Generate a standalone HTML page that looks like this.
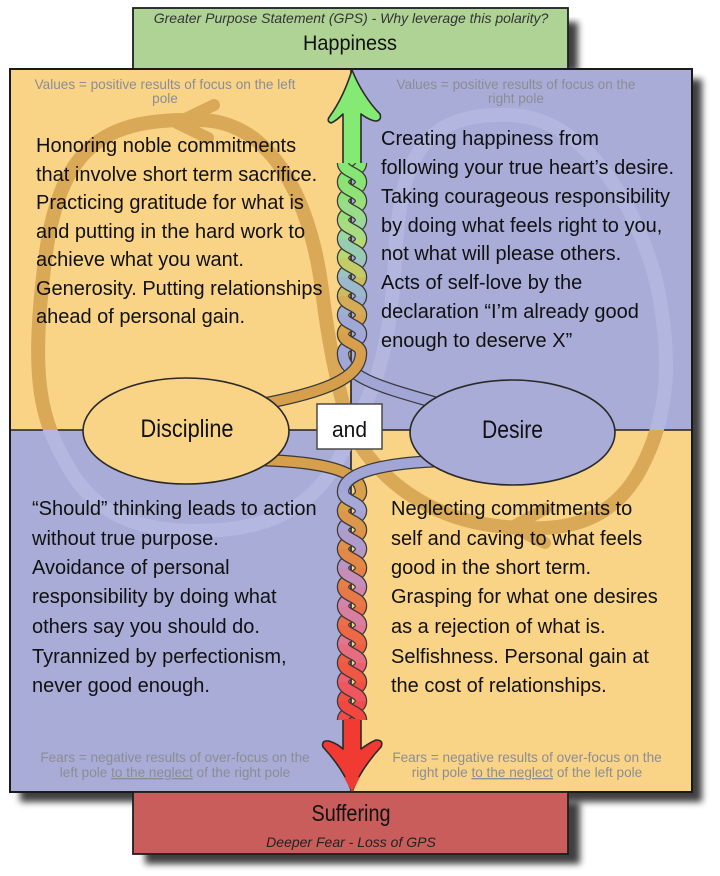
<!DOCTYPE html>
<html><head><meta charset="utf-8"><style>
html,body{margin:0;padding:0;background:#fff;}
svg{display:block;}
text{font-family:"Liberation Sans",Arial,sans-serif;}
.b{font-size:20px;fill:#111;}
.h{font-size:13.6px;fill:#8c8c94;}
.s1{fill:none;stroke:#3a3a3a;stroke-width:12.5;stroke-linecap:butt;}
</style></head><body>
<svg width="720" height="876" viewBox="0 0 720 876" xmlns="http://www.w3.org/2000/svg">
<defs>
<filter id="sh" x="-10%" y="-10%" width="130%" height="130%"><feGaussianBlur stdDeviation="3.5"/></filter>
<clipPath id="ct"><rect x="10" y="69" width="682" height="361"/></clipPath>
<clipPath id="cb"><rect x="10" y="430" width="682" height="362"/></clipPath>
</defs>

<!-- shadows -->
<rect x="143" y="22" width="435" height="50" fill="#000" opacity=".75" filter="url(#sh)"/>
<rect x="20" y="79" width="682" height="723" fill="#000" opacity=".75" filter="url(#sh)"/>
<rect x="145" y="802" width="435" height="62" fill="#000" opacity=".75" filter="url(#sh)"/>

<!-- green box -->
<rect x="133" y="8" width="435" height="61" fill="#afd395" stroke="#1e1e1e" stroke-width="1.8"/>
<text x="351" y="23" text-anchor="middle" font-size="14" font-style="italic" fill="#333">Greater Purpose Statement (GPS) - Why leverage this polarity?</text>
<text x="350" y="50" text-anchor="middle" font-size="21" fill="#111" textLength="94" lengthAdjust="spacingAndGlyphs">Happiness</text>

<!-- quadrants -->
<rect x="10" y="69" width="341" height="361" fill="#f9d487"/>
<rect x="351" y="69" width="341" height="361" fill="#a9acd7"/>
<rect x="10" y="430" width="341" height="362" fill="#a9acd7"/>
<rect x="351" y="430" width="341" height="362" fill="#f9d487"/>

<!-- midlines -->
<line x1="10" y1="430" x2="692" y2="430" stroke="#222" stroke-width="1.6"/>
<line x1="351" y1="69" x2="351" y2="792" stroke="#222" stroke-width="1.6"/>

<!-- loops -->
<g fill="none" stroke-width="14" stroke-linecap="round" stroke-linejoin="round">
<g clip-path="url(#ct)">
<path d="M351 432 C338 390 328 340 322 290 S290 122 200 120 S60 140 45 260 S40 420 70 470 S150 535 220 530 S330 490 351 432" stroke="#d9a958"/>
<path d="M351 428 C370 470 420 515 490 525 S610 525 640 470 S670 360 660 300 S600 118 510 115 S400 160 395 260 S370 400 351 428" stroke="#b3b6df"/>
<polyline points="214,105 177,123 208,138" stroke="#d9a958" stroke-width="12"/>
</g>
<g clip-path="url(#cb)">
<path d="M351 432 C338 390 328 340 322 290 S290 122 200 120 S60 140 45 260 S40 420 70 470 S150 535 220 530 S330 490 351 432" stroke="#b4b7df"/>
<path d="M351 428 C370 470 420 515 490 525 S610 525 640 470 S670 360 660 300 S600 118 510 115 S400 160 395 260 S370 400 351 428" stroke="#d9a958"/>
<polyline points="545,509 512,527 545,543" stroke="#d9a958" stroke-width="12"/>
</g>
</g>

<!-- main border -->
<rect x="10" y="69" width="682" height="723" fill="none" stroke="#1a1a1a" stroke-width="2"/>

<!-- green arrow -->
<path d="M352 70 C358 85 368 102 380 114 Q382 121 375 121 C370 120 365 117 361 114 L361 172 L343 172 L343 114 C340 117 336 121 331 123 Q326 121 330 116 C340 102 347 86 352 70 Z" fill="#84ea74" stroke="#2a2a2a" stroke-width="1.6" stroke-linejoin="round"/>

<!-- upper braid -->
<g fill="none" stroke-linecap="butt">
<path class="s1" d="M361 163 C361 172.5 343 172.5 343 182"/><path d="M361 163 C361 172.5 343 172.5 343 182" stroke="#86e673" stroke-width="10"/>
<path class="s1" d="M343 163 C343 172.5 361 172.5 361 182"/><path d="M343 163 C343 172.5 361 172.5 361 182" stroke="#86e673" stroke-width="10"/>
<path class="s1" d="M361 182 C361 191.5 343 191.5 343 201"/><path d="M361 182 C361 191.5 343 191.5 343 201" stroke="#90e07a" stroke-width="10"/>
<path class="s1" d="M343 182 C343 191.5 361 191.5 361 201"/><path d="M343 182 C343 191.5 361 191.5 361 201" stroke="#8ee276" stroke-width="10"/>
<path class="s1" d="M361 201 C361 210.5 343 210.5 343 220"/><path d="M361 201 C361 210.5 343 210.5 343 220" stroke="#9ede7a" stroke-width="10"/>
<path class="s1" d="M343 201 C343 210.5 361 210.5 361 220"/><path d="M343 201 C343 210.5 361 210.5 361 220" stroke="#98dc8c" stroke-width="10"/>
<path class="s1" d="M361 220 C361 229.5 343 229.5 343 239"/><path d="M361 220 C361 229.5 343 229.5 343 239" stroke="#9ad6a0" stroke-width="10"/>
<path class="s1" d="M343 220 C343 229.5 361 229.5 361 239"/><path d="M343 220 C343 229.5 361 229.5 361 239" stroke="#a8dc80" stroke-width="10"/>
<path class="s1" d="M361 239 C361 248.5 343 248.5 343 258"/><path d="M361 239 C361 248.5 343 248.5 343 258" stroke="#b8d870" stroke-width="10"/>
<path class="s1" d="M343 239 C343 248.5 361 248.5 361 258"/><path d="M343 239 C343 248.5 361 248.5 361 258" stroke="#98ccb0" stroke-width="10"/>
<path class="s1" d="M361 258 C361 267.5 343 267.5 343 277"/><path d="M361 258 C361 267.5 343 267.5 343 277" stroke="#9cc4c0" stroke-width="10"/>
<path class="s1" d="M343 258 C343 267.5 361 267.5 361 277"/><path d="M343 258 C343 267.5 361 267.5 361 277" stroke="#c4cc68" stroke-width="10"/>
<path class="s1" d="M361 277 C361 286.5 343 286.5 343 296"/><path d="M361 277 C361 286.5 343 286.5 343 296" stroke="#ccbc60" stroke-width="10"/>
<path class="s1" d="M343 277 C343 286.5 361 286.5 361 296"/><path d="M343 277 C343 286.5 361 286.5 361 296" stroke="#9cb8cc" stroke-width="10"/>
<path class="s1" d="M361 296 C361 305.5 343 305.5 343 315"/><path d="M361 296 C361 305.5 343 305.5 343 315" stroke="#9eaed4" stroke-width="10"/>
<path class="s1" d="M343 296 C343 305.5 361 305.5 361 315"/><path d="M343 296 C343 305.5 361 305.5 361 315" stroke="#d4ac56" stroke-width="10"/>
<path class="s1" d="M361 315 C361 324.5 343 324.5 343 334"/><path d="M361 315 C361 324.5 343 324.5 343 334" stroke="#d8a450" stroke-width="10"/>
<path class="s1" d="M343 315 C343 324.5 361 324.5 361 334"/><path d="M343 315 C343 324.5 361 324.5 361 334" stroke="#a0a8d6" stroke-width="10"/>
<path class="s1" d="M361 334 C361 343.5 343 343.5 343 353"/><path d="M361 334 C361 343.5 343 343.5 343 353" stroke="#a2a6d8" stroke-width="10"/>
<path class="s1" d="M343 334 C343 343.5 361 343.5 361 353"/><path d="M343 334 C343 343.5 361 343.5 361 353" stroke="#d8a04c" stroke-width="10"/>

<!-- upper connectors -->
<path class="s1" d="M343 353 C343 378 385 388 440 404"/><path d="M343 353 C343 378 385 388 440 404" stroke="#a2a6d6" stroke-width="10"/>
<path class="s1" d="M361 353 C361 378 325 392 262 404"/><path d="M361 353 C361 378 325 392 262 404" stroke="#d69f4c" stroke-width="10"/>

<!-- lower connectors -->
<path class="s1" d="M262 460 C320 462 361 470 361 492"/><path d="M262 460 C320 462 361 470 361 492" stroke="#d69f4c" stroke-width="10"/>
<path class="s1" d="M440 461 C385 463 343 472 343 492"/><path d="M440 461 C385 463 343 472 343 492" stroke="#a2a6d6" stroke-width="10"/>

<!-- red shaft / arrowhead -->
<path d="M352 792 C346 776 336 761 323 747 Q321 740 329 741 C335 743 340 746 343 749 L343 716 L361 716 L361 749 C365 746 371 742 376 740 Q384 740 381 747 C368 761 358 776 352 792 Z" fill="#f03a32" stroke="#2a2a2a" stroke-width="1.6" stroke-linejoin="round"/>

<!-- lower braid -->
<path class="s1" d="M361 492 C361 501.5 343 501.5 343 511"/><path d="M361 492 C361 501.5 343 501.5 343 511" stroke="#d8a04c" stroke-width="10"/>
<path class="s1" d="M343 492 C343 501.5 361 501.5 361 511"/><path d="M343 492 C343 501.5 361 501.5 361 511" stroke="#a6a8d8" stroke-width="10"/>
<path class="s1" d="M361 511 C361 520.5 343 520.5 343 530"/><path d="M361 511 C361 520.5 343 520.5 343 530" stroke="#a8a2d2" stroke-width="10"/>
<path class="s1" d="M343 511 C343 520.5 361 520.5 361 530"/><path d="M343 511 C343 520.5 361 520.5 361 530" stroke="#dc984a" stroke-width="10"/>
<path class="s1" d="M361 530 C361 539.5 343 539.5 343 549"/><path d="M361 530 C361 539.5 343 539.5 343 549" stroke="#e09048" stroke-width="10"/>
<path class="s1" d="M343 530 C343 539.5 361 539.5 361 549"/><path d="M343 530 C343 539.5 361 539.5 361 549" stroke="#b09ccc" stroke-width="10"/>
<path class="s1" d="M361 549 C361 558.5 343 558.5 343 568"/><path d="M361 549 C361 558.5 343 558.5 343 568" stroke="#b896c4" stroke-width="10"/>
<path class="s1" d="M343 549 C343 558.5 361 558.5 361 568"/><path d="M343 549 C343 558.5 361 558.5 361 568" stroke="#e48848" stroke-width="10"/>
<path class="s1" d="M361 568 C361 577.5 343 577.5 343 587"/><path d="M361 568 C361 577.5 343 577.5 343 587" stroke="#e68048" stroke-width="10"/>
<path class="s1" d="M343 568 C343 577.5 361 577.5 361 587"/><path d="M343 568 C343 577.5 361 577.5 361 587" stroke="#c48eb8" stroke-width="10"/>
<path class="s1" d="M361 587 C361 596.5 343 596.5 343 606"/><path d="M361 587 C361 596.5 343 596.5 343 606" stroke="#d086ac" stroke-width="10"/>
<path class="s1" d="M343 587 C343 596.5 361 596.5 361 606"/><path d="M343 587 C343 596.5 361 596.5 361 606" stroke="#e87848" stroke-width="10"/>
<path class="s1" d="M361 606 C361 615.5 343 615.5 343 625"/><path d="M361 606 C361 615.5 343 615.5 343 625" stroke="#ea7048" stroke-width="10"/>
<path class="s1" d="M343 606 C343 615.5 361 615.5 361 625"/><path d="M343 606 C343 615.5 361 615.5 361 625" stroke="#d87e9e" stroke-width="10"/>
<path class="s1" d="M361 625 C361 634.5 343 634.5 343 644"/><path d="M361 625 C361 634.5 343 634.5 343 644" stroke="#e07690" stroke-width="10"/>
<path class="s1" d="M343 625 C343 634.5 361 634.5 361 644"/><path d="M343 625 C343 634.5 361 634.5 361 644" stroke="#ec6846" stroke-width="10"/>
<path class="s1" d="M361 644 C361 653.5 343 653.5 343 663"/><path d="M361 644 C361 653.5 343 653.5 343 663" stroke="#ee6044" stroke-width="10"/>
<path class="s1" d="M343 644 C343 653.5 361 653.5 361 663"/><path d="M343 644 C343 653.5 361 653.5 361 663" stroke="#e66c80" stroke-width="10"/>
<path class="s1" d="M361 663 C361 672.5 343 672.5 343 682"/><path d="M361 663 C361 672.5 343 672.5 343 682" stroke="#ea6070" stroke-width="10"/>
<path class="s1" d="M343 663 C343 672.5 361 672.5 361 682"/><path d="M343 663 C343 672.5 361 672.5 361 682" stroke="#ef5842" stroke-width="10"/>
<path class="s1" d="M361 682 C361 691.5 343 691.5 343 701"/><path d="M361 682 C361 691.5 343 691.5 343 701" stroke="#f05040" stroke-width="10"/>
<path class="s1" d="M343 682 C343 691.5 361 691.5 361 701"/><path d="M343 682 C343 691.5 361 691.5 361 701" stroke="#ee5660" stroke-width="10"/>
<path class="s1" d="M361 701 C361 710.5 343 710.5 343 720"/><path d="M361 701 C361 710.5 343 710.5 343 720" stroke="#f04c50" stroke-width="10"/>
<path class="s1" d="M343 701 C343 710.5 361 710.5 361 720"/><path d="M343 701 C343 710.5 361 710.5 361 720" stroke="#f04840" stroke-width="10"/>
</g>
<rect x="344" y="719" width="16" height="6" fill="#f03a32"/>

<!-- ellipses -->
<ellipse cx="186" cy="431" rx="103" ry="53" fill="#f9d487" stroke="#2a2a2a" stroke-width="1.6"/>
<ellipse cx="512.5" cy="432.5" rx="102.5" ry="52.5" fill="#a9acd7" stroke="#2a2a2a" stroke-width="1.6"/>
<text x="187" y="437" text-anchor="middle" font-size="25" fill="#111" textLength="93" lengthAdjust="spacingAndGlyphs">Discipline</text>
<text x="512.5" y="438" text-anchor="middle" font-size="25" fill="#111" textLength="61" lengthAdjust="spacingAndGlyphs">Desire</text>

<!-- and box -->
<rect x="317" y="404" width="65" height="45" fill="#fff" stroke="#4a4a4a" stroke-width="1.5"/>
<text x="349.5" y="437" text-anchor="middle" font-size="22" fill="#111" textLength="35" lengthAdjust="spacingAndGlyphs">and</text>

<!-- headers -->
<text class="h" x="165" y="89" text-anchor="middle">Values = positive results of focus on the left</text>
<text class="h" x="165" y="103" text-anchor="middle">pole</text>
<text class="h" x="516" y="89" text-anchor="middle">Values = positive results of focus on the</text>
<text class="h" x="516" y="103" text-anchor="middle">right pole</text>
<text class="h" x="175" y="762" text-anchor="middle">Fears = negative results of over-focus on the</text>
<text class="h" x="175" y="777" text-anchor="middle">left pole <tspan style="text-decoration:underline">to the neglect</tspan> of the right pole</text>
<text class="h" x="527" y="762" text-anchor="middle">Fears = negative results of over-focus on the</text>
<text class="h" x="527" y="777" text-anchor="middle">right pole <tspan style="text-decoration:underline">to the neglect</tspan> of the left pole</text>

<!-- top-left text -->
<text class="b" x="36" y="152">Honoring noble commitments</text>
<text class="b" x="36" y="181">that involve short term sacrifice.</text>
<text class="b" x="36" y="209">Practicing gratitude for what is</text>
<text class="b" x="36" y="238">and putting in the hard work to</text>
<text class="b" x="36" y="266">achieve what you want.</text>
<text class="b" x="36" y="295">Generosity. Putting relationships</text>
<text class="b" x="36" y="323">ahead of personal gain.</text>

<!-- top-right text -->
<text class="b" x="381" y="145">Creating happiness from</text>
<text class="b" x="381" y="174">following your true heart’s desire.</text>
<text class="b" x="381" y="203">Taking courageous responsibility</text>
<text class="b" x="381" y="232">by doing what feels right to you,</text>
<text class="b" x="381" y="260">not what will please others.</text>
<text class="b" x="381" y="289">Acts of self-love by the</text>
<text class="b" x="381" y="318">declaration “I’m already good</text>
<text class="b" x="381" y="347">enough to deserve X”</text>

<!-- bottom-left text -->
<text class="b" x="32" y="515">“Should” thinking leads to action</text>
<text class="b" x="32" y="545">without true purpose.</text>
<text class="b" x="32" y="574">Avoidance of personal</text>
<text class="b" x="32" y="603">responsibility by doing what</text>
<text class="b" x="32" y="633">others say you should do.</text>
<text class="b" x="32" y="663">Tyrannized by perfectionism,</text>
<text class="b" x="32" y="692">never good enough.</text>

<!-- bottom-right text -->
<text class="b" x="391" y="515">Neglecting commitments to</text>
<text class="b" x="391" y="545">self and caving to what feels</text>
<text class="b" x="391" y="574">good in the short term.</text>
<text class="b" x="391" y="603">Grasping for what one desires</text>
<text class="b" x="391" y="633">as a rejection of what is.</text>
<text class="b" x="391" y="663">Selfishness. Personal gain at</text>
<text class="b" x="391" y="692">the cost of relationships.</text>

<!-- red box -->
<rect x="133" y="792" width="435" height="62" fill="#c95d5b" stroke="#1e1e1e" stroke-width="1.8"/>
<path d="M352 792 C349 786 346 781 344 777 L360 777 C358 781 355 786 352 792 Z" fill="#f03a32"/>
<text x="351" y="821" text-anchor="middle" font-size="23" fill="#111" textLength="79" lengthAdjust="spacingAndGlyphs">Suffering</text>
<text x="351" y="847" text-anchor="middle" font-size="14" font-style="italic" fill="#222">Deeper Fear - Loss of GPS</text>
</svg>
</body></html>
